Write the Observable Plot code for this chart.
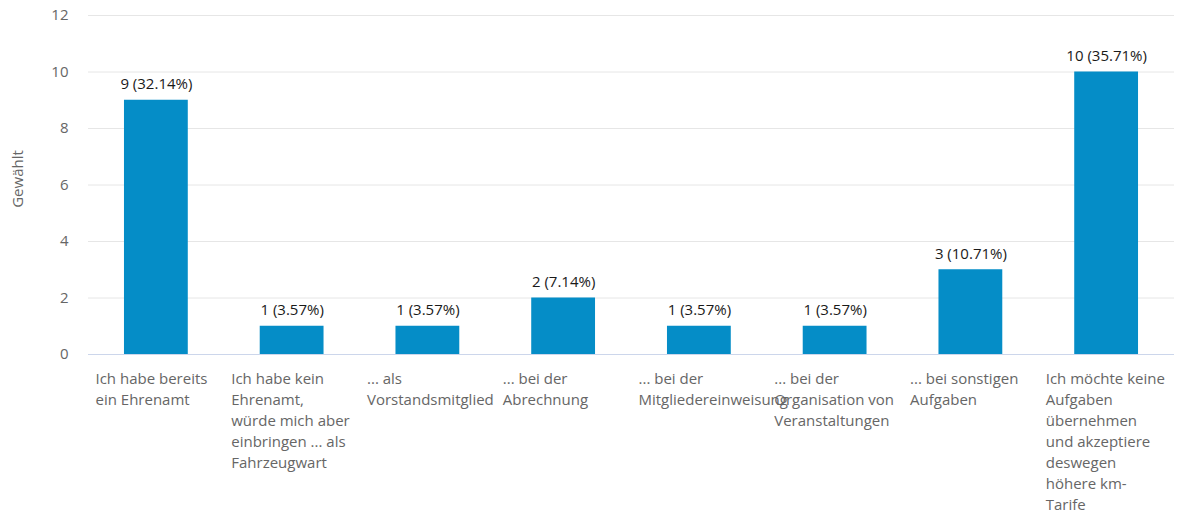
<!DOCTYPE html>
<html>
<head>
<meta charset="utf-8">
<script src="https://cdn.jsdelivr.net/npm/d3@7"></script>
<script src="https://cdn.jsdelivr.net/npm/@observablehq/plot@0.6"></script>
<style>
  html, body { margin: 0; padding: 0; background: #fff; }
  #chart svg { display: block; font-family: "Open Sans", sans-serif; }
</style>
</head>
<body>
<div id="chart"></div>
<script>
const categories = [
  "Ich habe bereits ein Ehrenamt",
  "Ich habe kein Ehrenamt, würde mich aber einbringen ... als Fahrzeugwart",
  "... als Vorstandsmitglied",
  "... bei der Abrechnung",
  "... bei der Mitgliedereinweisung",
  "... bei der Organisation von Veranstaltungen",
  "... bei sonstigen Aufgaben",
  "Ich möchte keine Aufgaben übernehmen und akzeptiere deswegen höhere km-Tarife"
];
const tickLabels = [
  "Ich habe bereits\nein Ehrenamt",
  "Ich habe kein\nEhrenamt,\nwürde mich aber\neinbringen ... als\nFahrzeugwart",
  "... als\nVorstandsmitglied",
  "... bei der\nAbrechnung",
  "... bei der\nMitgliedereinweisung",
  "... bei der\nOrganisation von\nVeranstaltungen",
  "... bei sonstigen\nAufgaben",
  "Ich möchte keine\nAufgaben\nübernehmen\nund akzeptiere\ndeswegen\nhöhere km-\nTarife"
];
const counts = [9, 1, 1, 2, 1, 1, 3, 10];
const percents = ["32.14%", "3.57%", "3.57%", "7.14%", "3.57%", "3.57%", "10.71%", "35.71%"];
const yTicks = [0, 2, 4, 6, 8, 10, 12];

const data = categories.map((c, i) => ({
  category: c, tick: tickLabels[i], count: counts[i],
  label: `${counts[i]} (${percents[i]})`
}));

const W = 1177, H = 512;
const mL = 88, mR = 3;
const band = (W - mL - mR) / categories.length;

const chart = Plot.plot({
  width: W,
  height: H,
  marginLeft: mL,
  marginRight: mR,
  marginTop: 15,
  marginBottom: 158,
  style: { fontFamily: "Open Sans, sans-serif", background: "#fff" },
  x: { domain: categories, paddingInner: 0.53, paddingOuter: 0.265, round: false, axis: null },
  y: { domain: [0, 12], ticks: yTicks, label: null, axis: null },
  marks: [
    Plot.gridY(yTicks.filter(t => t > 0), { stroke: "#e6e6e6", strokeOpacity: 1 }),
    Plot.axisY(yTicks, {
      tickSize: 0, tickPadding: 20, fontSize: 15, fill: "#666666", label: null
    }),
    Plot.text(["Gewählt"], {
      frameAnchor: "left", dx: -70, rotate: -90, fontSize: 15, fill: "#666666", textAnchor: "middle",
      dy: -6
    }),
    Plot.barY(data, { x: "category", y: "count", fill: "#058DC7" }),
    Plot.ruleY([0], { stroke: "#ccd6eb" }),
    Plot.text(data, {
      x: "category", y: "count", text: "label", dy: -16, fontSize: 15, fill: "#1a1a1a"
    }),
    Plot.text(data, {
      x: "category", y: () => 0, text: "tick", textAnchor: "start", lineAnchor: "top",
      dx: -band / 2 + 7, dy: 15, fontSize: 15, lineHeight: 1.4, fill: "#666666"
    })
  ]
});
document.getElementById("chart").appendChild(chart);
</script>
</body>
</html>
